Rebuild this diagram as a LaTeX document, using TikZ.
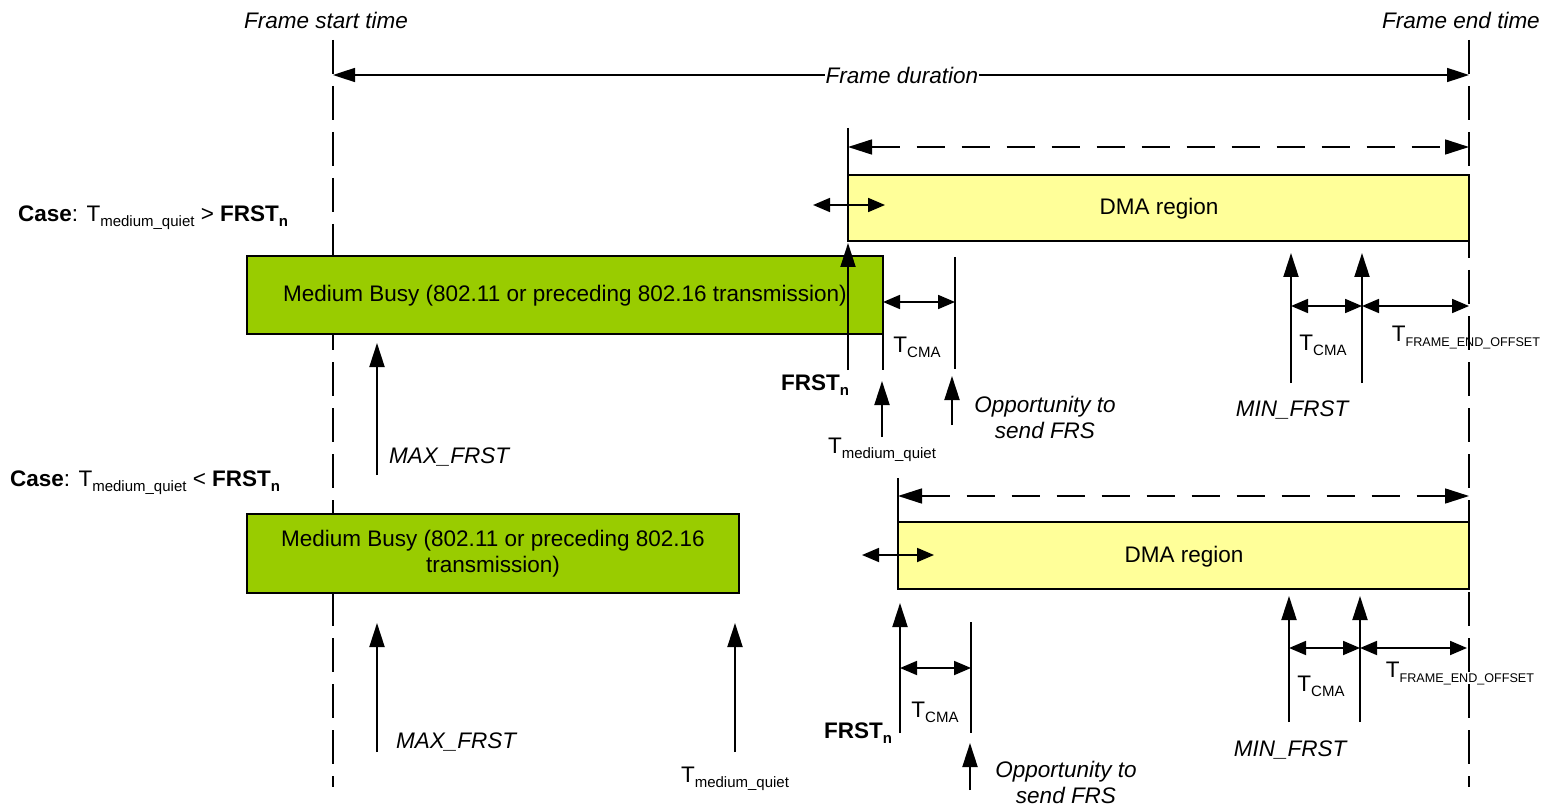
\documentclass[tikz,border=0pt]{standalone}
\usepackage{fontspec}
\setmainfont{Liberation Sans}
\usetikzlibrary{arrows.meta}
\newcommand{\sbx}[1]{\raisebox{-5pt}{\fontsize{15}{15}\selectfont #1}}
\newcommand{\sbsmall}[1]{\raisebox{-5pt}{\fontsize{12.6}{13}\selectfont #1}}
\begin{document}
\begin{tikzpicture}[x=1pt,y=-1pt,
  every node/.style={font=\fontsize{22.5}{26}\selectfont, inner sep=0pt},
  txt/.style={yshift=-2pt},
  vdash/.style={line width=1.8pt, dash pattern=on 34pt off 12pt},
  upar/.style={line width=2pt, -{Triangle[length=24pt,width=15pt]}},
  dbl/.style={line width=1.8pt, {Triangle[length=17pt,width=14pt]}-{Triangle[length=17pt,width=14pt]}},
  fdarr/.style={line width=1.6pt, {Triangle[length=22pt,width=14pt]}-{Triangle[length=22pt,width=14pt]}},
  ddarr/.style={line width=1.6pt, dash pattern=on 28pt off 17pt, {Triangle[length=24pt,width=15pt]}-{Triangle[length=24pt,width=15pt]}},
  tick/.style={line width=2pt},
  busy/.style={draw, line width=2pt, fill={rgb,255:red,153;green,204;blue,0}},
  dma/.style={draw, line width=2pt, fill={rgb,255:red,255;green,255;blue,153}},
  lab/.style={txt, font=\fontsize{22.5}{26}\selectfont\itshape}
]
\useasboundingbox[fill=white] (0,0) rectangle (1551,805);

% frame boundaries
\node[lab] (fst) at (326,18) {Frame start time};
\node[lab] (fet) at (1461,18) {Frame end time};
\coordinate (s1) at (333,40); \coordinate (s2) at (333,787);
\coordinate (e1) at (1469,40); \coordinate (e2) at (1469,787);
\draw[vdash] (s1) -- (s2);
\draw[vdash] (e1) -- (e2);
\coordinate (fdl) at (333,75); \coordinate (fdr) at (1469,75);
\draw[fdarr] (fdl) -- (fdr);
\node[lab, fill=white, inner xsep=1pt, inner ysep=2pt, yshift=2pt] (fd) at (902,75) {Frame duration};

% ===== Case 1 =====
\node[txt, anchor=west] (case1) at (18,216) {\textbf{Case}: T\sbx{medium\_quiet} > \textbf{FRST\sbx{\textbf{n}}}};
\coordinate (d1t) at (848,128); \coordinate (d1b) at (848,175);
\draw[tick] (d1t) -- (d1b);
\coordinate (dd1l) at (848,147); \coordinate (dd1r) at (1469,147);
\draw[ddarr] (dd1l) -- (dd1r);
\draw[dma] (848,175) rectangle (1469,241);
\node[txt] (dma1) at (1159,207) {DMA region};
\coordinate (sa1l) at (813,205); \coordinate (sa1r) at (885,205);
\draw[dbl] (sa1l) -- (sa1r);
\draw[busy] (247,256) rectangle (883,334);
\node[txt] (busy1) at (565,294) {Medium Busy (802.11 or preceding 802.16 transmission)};
% FRSTn
\coordinate (f1b) at (848,370); \coordinate (f1t) at (848,243);
\draw[upar] (f1b) -- (f1t);
\node[txt] (frst1) at (815,383) {\textbf{FRST\sbx{\textbf{n}}}};
% TCMA
\coordinate (q1a) at (883,334); \coordinate (q1b) at (883,370);
\draw[tick] (q1a) -- (q1b);
\coordinate (o1a) at (955,257); \coordinate (o1b) at (955,369);
\draw[tick] (o1a) -- (o1b);
\coordinate (c1l) at (883,302); \coordinate (c1r) at (955,302);
\draw[dbl] (c1l) -- (c1r);
\node[txt] (tcma1) at (917,345) {T\sbx{CMA}};
% Tmq
\coordinate (tq1b) at (882,437); \coordinate (tq1t) at (882,381);
\draw[upar] (tq1b) -- (tq1t);
\node[txt] (tmq1) at (882,448) {T\sbx{medium\_quiet}};
% Opportunity
\coordinate (op1b) at (952,425); \coordinate (op1t) at (952,376);
\draw[upar] (op1b) -- (op1t);
\node[lab, align=center] (opp1) at (1045,415) {Opportunity to\\send FRS};
% MAX_FRST
\coordinate (m1b) at (377,475); \coordinate (m1t) at (377,343);
\draw[upar] (m1b) -- (m1t);
\node[lab, anchor=west] (max1) at (389,455) {MAX\_FRST};
% MIN_FRST
\coordinate (n1ab) at (1291,383); \coordinate (n1at) at (1291,253);
\coordinate (n1bb) at (1362,383); \coordinate (n1bt) at (1362,253);
\draw[upar] (n1ab) -- (n1at);
\draw[upar] (n1bb) -- (n1bt);
\coordinate (c1a) at (1291,306); \coordinate (c1b) at (1362,306); \coordinate (c1c) at (1469,306);
\draw[dbl] (c1a) -- (c1b);
\draw[dbl] (c1b) -- (c1c);
\node[txt] (tcma1b) at (1323,343) {T\sbx{CMA}};
\node[txt] (feo1) at (1466,336) {T\sbsmall{FRAME\_END\_OFFSET}};
\node[lab] (min1) at (1292,408) {MIN\_FRST};

% ===== Case 2 =====
\node[txt, anchor=west] (case2) at (10,481) {\textbf{Case}: T\sbx{medium\_quiet} < \textbf{FRST\sbx{\textbf{n}}}};
\coordinate (d2t) at (898,478); \coordinate (d2b) at (898,522);
\draw[tick] (d2t) -- (d2b);
\coordinate (dd2l) at (898,496); \coordinate (dd2r) at (1469,496);
\draw[ddarr] (dd2l) -- (dd2r);
\draw[dma] (898,522) rectangle (1469,589);
\node[txt] (dma2) at (1184,555) {DMA region};
\coordinate (sa2l) at (862,555); \coordinate (sa2r) at (934,555);
\draw[dbl] (sa2l) -- (sa2r);
\draw[busy] (247,514) rectangle (739,593);
\node[txt, align=center] (busy2) at (493,552) {Medium Busy (802.11 or preceding 802.16\\transmission)};
% MAX_FRST
\coordinate (m2b) at (377,752); \coordinate (m2t) at (377,623);
\draw[upar] (m2b) -- (m2t);
\node[lab, anchor=west] (max2) at (396,740) {MAX\_FRST};
% Tmq
\coordinate (tq2b) at (735,752); \coordinate (tq2t) at (735,623);
\draw[upar] (tq2b) -- (tq2t);
\node[txt] (tmq2) at (735,777) {T\sbx{medium\_quiet}};
% FRSTn
\coordinate (f2b) at (900,733); \coordinate (f2t) at (900,603);
\draw[upar] (f2b) -- (f2t);
\node[txt] (frst2) at (858,731) {\textbf{FRST\sbx{\textbf{n}}}};
% TCMA
\coordinate (o2a) at (971,622); \coordinate (o2b) at (971,733);
\draw[tick] (o2a) -- (o2b);
\coordinate (c2l) at (900,668); \coordinate (c2r) at (971,668);
\draw[dbl] (c2l) -- (c2r);
\node[txt] (tcma2) at (935,710) {T\sbx{CMA}};
% Opportunity
\coordinate (op2b) at (970,790); \coordinate (op2t) at (970,743);
\draw[upar] (op2b) -- (op2t);
\node[lab, align=center] (opp2) at (1066,780) {Opportunity to\\send FRS};
% MIN_FRST
\coordinate (n2ab) at (1289,722); \coordinate (n2at) at (1289,596);
\coordinate (n2bb) at (1360,722); \coordinate (n2bt) at (1360,596);
\draw[upar] (n2ab) -- (n2at);
\draw[upar] (n2bb) -- (n2bt);
\coordinate (c2a) at (1289,648); \coordinate (c2b) at (1360,648); \coordinate (c2c) at (1467,648);
\draw[dbl] (c2a) -- (c2b);
\draw[dbl] (c2b) -- (c2c);
\node[txt] (tcma2b) at (1321,684) {T\sbx{CMA}};
\node[txt] (feo2) at (1460,672) {T\sbsmall{FRAME\_END\_OFFSET}};
\node[lab] (min2) at (1290,748) {MIN\_FRST};
\end{tikzpicture}
\end{document}
